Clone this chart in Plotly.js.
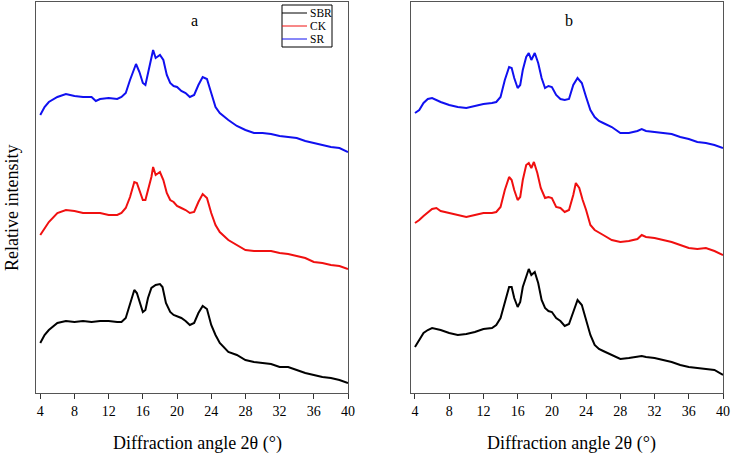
<!DOCTYPE html>
<html>
<head>
<meta charset="utf-8">
<script src="https://cdn.plot.ly/plotly-3.0.1.min.js"></script>
<style>html,body{margin:0;padding:0;background:#fff;}#chart{width:731px;height:454px;}</style>
</head>
<body>
<div id="chart"></div>
<script>
// Panel a
var aSR_x = [4,4.5,5,6,7,8,9,10,10.5,11,12,13,13.5,14,14.5,15,15.2,15.6,16,16.3,16.6,17,17.2,17.5,18,18.4,18.8,19.2,19.6,20,20.5,21,21.5,22,22.5,23,23.5,24,24.5,25,25.5,26,26.5,27,28,29,30,31,32,33,34,35,36,37,38,39,40];
var aSR_y = [278,286,291,296,299,297,296,296,292,294,295,294,296,300,313,326,329,321,310,308,320,335,343,335,338,333,318,310,307,306,302,300,296,298,308,316,314,300,286,280,276,273,270,267,263,260,260,259,257,256,255,252,250,248,246,245,241];
var aCK_x = [4,4.5,5,6,7,8,9,10,11,12,13,13.5,14,14.5,15,15.3,15.6,16,16.3,16.6,17,17.2,17.5,18,18.4,18.8,19.2,19.6,20,20.5,21,21.5,22,22.5,23,23.5,24,24.5,25,26,27,28,29,30,31,32,33,34,35,36,37,38,39,40];
var aCK_y = [158,165,171,180,183,182,180,180,180,178,178,180,185,196,211,210,203,193,193,203,216,226,218,221,213,200,193,191,187,185,183,180,181,191,199,195,180,168,161,153,148,143,142,142,142,140,139,137,135,131,130,128,127,124];
var aSBR_x = [4,4.5,5,6,7,8,9,10,11,12,13,13.5,14,14.5,15,15.3,15.6,16,16.3,16.6,17,17.5,18,18.3,18.7,19.2,19.6,20,20.5,21,21.5,22,22.5,23,23.5,24,24.5,25,25.5,26,27,28,29,30,31,32,33,34,35,36,37,38,39,40];
var aSBR_y = [50,58,63,70,72,71,72,71,72,72,71,71,75,90,103,100,91,81,83,95,105,108,109,106,90,81,78,77,75,72,68,70,80,87,84,68,58,50,45,41,38,33,31,30,29,26,26,23,20,18,16,15,13,10];
// Panel b
var bSR_x = [4,4.5,5,5.5,6,6.5,7,8,9,10,11,12,13,13.5,14,14.5,15,15.3,15.6,16,16.3,16.6,17,17.3,17.6,18,18.4,18.8,19.2,19.6,20,20.5,21,21.5,22,22.5,23,23.5,24,24.5,25,25.5,26,27,28,29,30,30.5,31,32,33,34,35,36,37,38,39,40];
var bSR_y = [280,283,290,294,295,293,291,288,286,285,287,289,290,291,296,313,326,325,315,305,308,323,336,340,333,340,330,315,305,307,306,298,294,293,294,308,315,310,296,283,276,272,270,266,260,260,262,264,262,261,260,259,256,254,251,250,248,245];
var bCK_x = [4,4.5,5,5.5,6,6.5,7,8,9,10,11,12,13,13.5,14,14.5,15,15.3,15.6,16,16.3,16.6,17,17.3,17.6,17.9,18.3,18.7,19.2,19.6,20,20.5,21,21.5,22,22.5,22.8,23.2,23.6,24,24.5,25,26,27,28,29,30,30.5,31,32,33,34,35,36,37,38,39,40];
var bCK_y = [170,173,177,181,184,185,182,180,178,176,178,180,180,181,186,203,216,213,203,193,196,213,228,230,225,231,220,205,195,196,195,186,185,181,183,198,210,205,193,183,168,163,158,153,151,152,154,158,156,155,153,151,148,145,144,145,142,138];
var bSBR_x = [4,4.5,5,5.5,6,7,8,9,10,11,12,13,13.5,14,14.5,15,15.3,15.6,16,16.3,16.6,17,17.3,17.6,18,18.4,18.8,19.2,19.6,20,20.5,21,21.5,22,22.5,23,23.5,24,24.5,25,25.5,26,27,28,29,30,30.5,31,32,33,34,35,36,37,38,39,40];
var bSBR_y = [46,53,60,63,65,63,60,58,59,61,64,65,68,75,90,106,106,95,86,91,106,116,124,118,121,110,93,85,82,81,75,72,67,69,81,93,88,72,58,48,44,42,38,34,35,36,37,36,35,33,31,28,26,25,24,23,18];

var seriesNames = ['SBR', 'CK', 'SR'];
var seriesColors = ['#000000', '#f01010', '#1010f0'];
var panelLabels = ['a', 'b'];
var xTicks = [4, 8, 12, 16, 20, 24, 28, 32, 36, 40];
var xTitle = 'Diffraction angle 2\u03b8 (\u00b0)';
var yTitle = 'Relative intensity';

var FONT = '"Liberation Serif", "Times New Roman", Times, serif';
var LW = 2;

var panels = [
  [[aSBR_x, aSBR_y], [aCK_x, aCK_y], [aSR_x, aSR_y]],
  [[bSBR_x, bSBR_y], [bCK_x, bCK_y], [bSR_x, bSR_y]]
];

var traces = [];
panels.forEach(function (p, pi) {
  p.forEach(function (s, si) {
    traces.push({
      x: s[0], y: s[1], type: 'scatter', mode: 'lines',
      name: seriesNames[si], showlegend: false,
      line: {color: seriesColors[si], width: LW},
      xaxis: pi === 0 ? 'x' : 'x2', yaxis: pi === 0 ? 'y' : 'y2'
    });
  });
});

function xax(domain, anchor) {
  return {
    domain: domain, anchor: anchor, range: [3.5, 40], tickvals: xTicks, ticktext: xTicks.map(String),
    ticks: 'outside', ticklen: 5, tickwidth: 1, tickcolor: '#333',
    showline: true, linecolor: '#555', linewidth: 1, mirror: true,
    showgrid: false, zeroline: false,
    tickfont: {family: FONT, size: 14, color: '#000'}
  };
}
function yax(anchor) {
  return {
    range: [0, 391], showticklabels: false, ticks: '', anchor: anchor,
    showline: true, linecolor: '#555', linewidth: 1, mirror: true,
    showgrid: false, zeroline: false
  };
}

var W = 687, H = 391, L = 36, T = 2;
function px(x) { return (x - L) / W; }
function py(y) { return (T + H - y) / H; }

var annotations = [
  {text: panelLabels[0], x: px(194), y: py(21)},
  {text: panelLabels[1], x: px(569), y: py(21)},
  {text: xTitle, x: px(197.5), y: py(443), size: 18},
  {text: xTitle, x: px(571.5), y: py(443), size: 18},
  {text: yTitle, x: px(12.5), y: py(208.5), size: 18, angle: -90}
].map(function (a) {
  return {
    text: a.text, x: a.x, y: a.y, xref: 'paper', yref: 'paper',
    xanchor: 'center', yanchor: 'middle', showarrow: false,
    textangle: a.angle || 0,
    font: {family: FONT, size: a.size || 16, color: '#000'}
  };
});

var shapes = [{
  type: 'rect', xref: 'paper', yref: 'paper',
  x0: px(282), x1: px(332), y0: py(47), y1: py(5),
  line: {color: '#000', width: 1}, fillcolor: '#fff'
}];
var legY = [13, 26, 39];
seriesNames.forEach(function (n, i) {
  shapes.push({
    type: 'line', xref: 'paper', yref: 'paper',
    x0: px(282), x1: px(307), y0: py(legY[i]), y1: py(legY[i]),
    line: {color: seriesColors[i], width: 1}
  });
  annotations.push({
    text: n, x: px(308), y: py(legY[i]), xref: 'paper', yref: 'paper',
    xanchor: 'left', yanchor: 'middle', showarrow: false,
    font: {family: FONT, size: 11.5, color: '#000'}
  });
});

var layout = {
  width: 731, height: 454,
  margin: {l: L, r: 731 - L - W, t: T, b: 454 - T - H, pad: 0},
  paper_bgcolor: '#fff', plot_bgcolor: '#fff',
  showlegend: false,
  font: {family: FONT},
  xaxis: xax([0, 312 / 687], 'y'),
  yaxis: yax('x'),
  xaxis2: xax([(410.7 - 36) / 687, 1], 'y2'),
  yaxis2: yax('x2'),
  annotations: annotations,
  shapes: shapes
};

Plotly.newPlot('chart', traces, layout, {displayModeBar: false, staticPlot: true});
</script>
</body>
</html>
